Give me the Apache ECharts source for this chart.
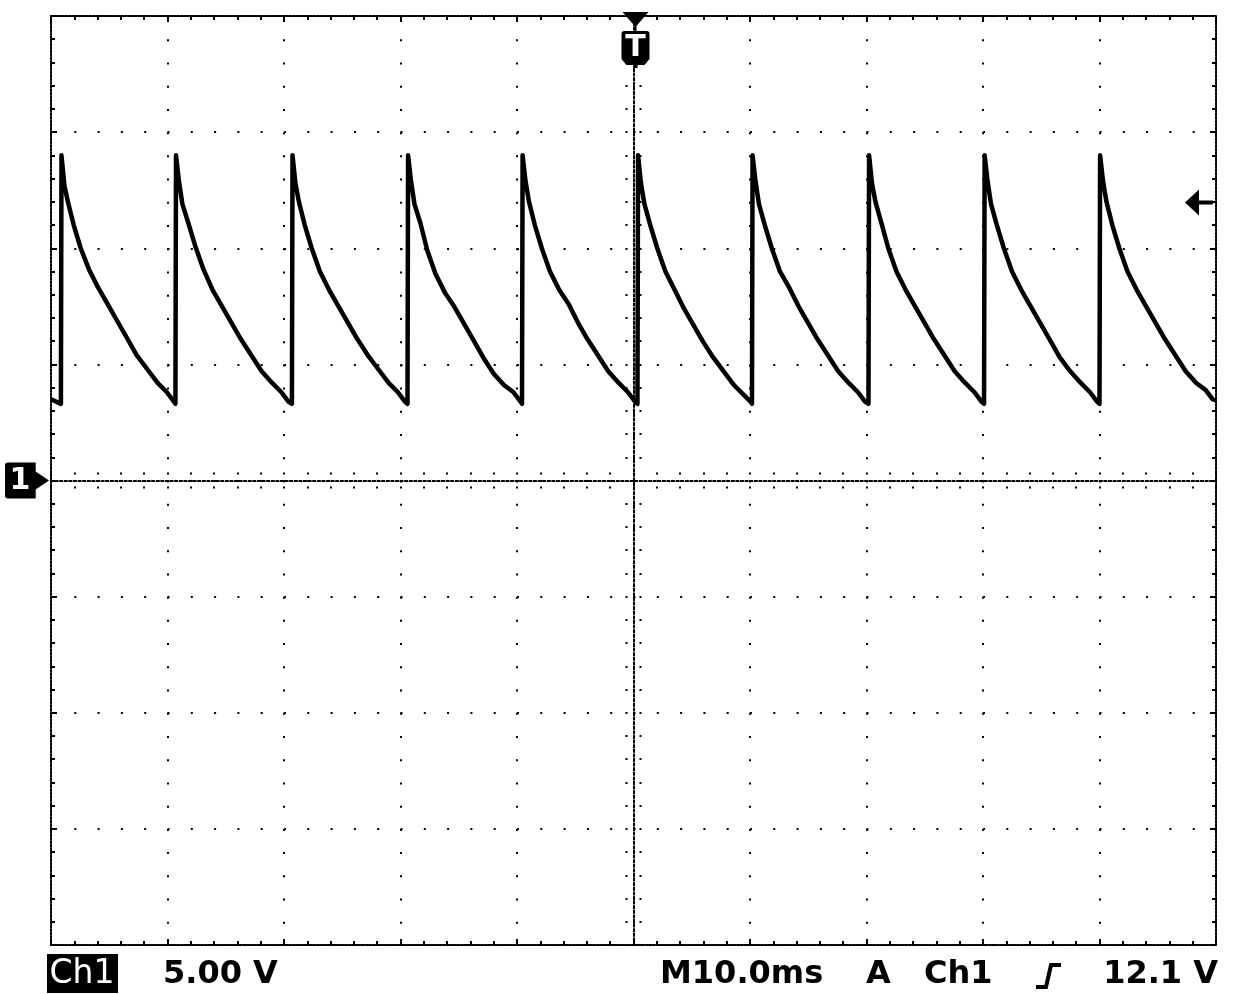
<!DOCTYPE html>
<html><head><meta charset="utf-8">
<script src="https://cdn.jsdelivr.net/npm/echarts@6/dist/echarts.min.js"></script>
<style>html,body{margin:0;padding:0;background:#fff}#c{width:1248px;height:994px}</style>
</head><body><div id="c"></div>
<script>
// ---- axis ranges (10 div x 10 ms, 8 div x 5 V) ----
const timeMinMs = -50, timeMaxMs = 50, timeDivMs = 10;
const voltMin = -20, voltMax = 20, voltDiv = 5;

// ---- trace (time relative to trigger, ms / volts) ----
const traceTimeMs = [
  -50.0,
  -49.15, -49.1, -48.85, -48.55, -48.05, -47.45, -46.75, -45.95, -45.15, -44.35, -43.55, -42.65, -41.75, -40.85, -40.05, -39.45,
  -39.32, -39.27, -39.02, -38.72, -38.22, -37.62, -36.92, -36.12, -35.32, -34.52, -33.72, -32.82, -31.92, -31.02, -30.22, -29.62,
  -29.32, -29.27, -29.02, -28.72, -28.22, -27.62, -26.92, -26.12, -25.32, -24.52, -23.72, -22.82, -21.92, -21.02, -20.22, -19.62,
  -19.4, -19.35, -19.1, -18.8, -18.3, -17.7, -17.0, -16.2, -15.4, -14.6, -13.8, -12.9, -12.0, -11.1, -10.3, -9.7,
  -9.57, -9.52, -9.27, -8.97, -8.47, -7.87, -7.17, -6.37, -5.57, -4.77, -3.97, -3.07, -2.17, -1.27, -0.47, 0.13,
  0.34, 0.39, 0.64, 0.94, 1.44, 2.04, 2.74, 3.54, 4.34, 5.14, 5.94, 6.84, 7.74, 8.64, 9.44, 10.04,
  10.17, 10.22, 10.47, 10.77, 11.27, 11.87, 12.57, 13.37, 14.17, 14.97, 15.77, 16.67, 17.57, 18.47, 19.27, 19.87,
  20.17, 20.22, 20.47, 20.77, 21.27, 21.87, 22.57, 23.37, 24.17, 24.97, 25.77, 26.67, 27.57, 28.47, 29.27, 29.87,
  30.09, 30.14, 30.39, 30.69, 31.19, 31.79, 32.49, 33.29, 34.09, 34.89, 35.69, 36.59, 37.49, 38.39, 39.19, 39.79,
  40.0, 40.05, 40.3, 40.6, 41.1, 41.7, 42.4, 43.2, 44.0, 44.8, 45.6, 46.5, 47.4, 48.3, 49.1, 49.7,
  50.0
];
const traceVolts = [
  3.5,
  3.3, 14.0, 12.7, 12.0, 11.0, 10.0, 9.1, 8.3, 7.6, 6.9, 6.2, 5.4, 4.8, 4.2, 3.8, 3.4,
  3.3, 14.0, 12.9, 11.9, 11.1, 10.1, 9.1, 8.2, 7.5, 6.8, 6.1, 5.4, 4.7, 4.2, 3.8, 3.4,
  3.3, 14.0, 12.8, 12.0, 11.0, 10.0, 9.0, 8.2, 7.5, 6.8, 6.1, 5.4, 4.8, 4.2, 3.8, 3.4,
  3.3, 14.0, 12.9, 11.9, 11.1, 9.9, 8.9, 8.1, 7.5, 6.8, 6.1, 5.3, 4.6, 4.1, 3.8, 3.4,
  3.3, 14.0, 12.9, 12.0, 11.0, 10.0, 9.0, 8.2, 7.6, 6.8, 6.1, 5.4, 4.7, 4.2, 3.8, 3.4,
  3.3, 14.0, 12.8, 11.9, 11.0, 10.0, 9.0, 8.2, 7.4, 6.7, 6.0, 5.3, 4.7, 4.1, 3.7, 3.4,
  3.3, 14.0, 12.9, 11.9, 11.0, 10.0, 9.0, 8.3, 7.5, 6.8, 6.1, 5.4, 4.7, 4.2, 3.8, 3.4,
  3.3, 14.0, 12.8, 12.0, 11.1, 10.0, 9.0, 8.2, 7.5, 6.8, 6.1, 5.4, 4.7, 4.2, 3.8, 3.4,
  3.3, 14.0, 12.9, 11.9, 11.0, 10.0, 9.0, 8.2, 7.5, 6.8, 6.1, 5.3, 4.7, 4.2, 3.8, 3.4,
  3.3, 14.0, 12.9, 12.0, 11.0, 10.0, 9.0, 8.2, 7.5, 6.8, 6.1, 5.4, 4.7, 4.2, 3.9, 3.5,
  3.45
];

// ---- readout texts ----
const channelName = 'Ch1';
const voltsPerDivLabel = '5.00 V';
const timebaseLabel = 'M10.0ms';
const triggerModeLabel = 'A';
const triggerSourceLabel = 'Ch1';
const triggerLevelV = 12.1;
const triggerLevelLabel = '12.1 V';
const groundMarkerText = '1';
const triggerMarkerText = 'T';

const ink = '#000';
const FONT = '"DejaVu Sans", "Liberation Sans", sans-serif';
const G = { left: 51, top: 16, width: 1165, height: 929 };
const minorX = G.width / 50, minorY = G.height / 40;
const centerTickDash = [0, 6, 2, 40];
const centerLineDash = [2, 2.6];
const borderDash = [2, 1.5];

function axisParts(center, inside, split, dotGap) {
  return {
    axisLine: { show: true, onZero: center, onZeroAxisIndex: center ? 0 : undefined,
      lineStyle: { color: ink, width: 2, type: center ? centerLineDash : borderDash } },
    axisTick: { show: true, inside: inside, length: center ? 9 : 6,
      lineStyle: { color: ink, width: 2, type: center ? centerTickDash : 'solid' } },
    minorTick: { show: true, splitNumber: 5, length: center ? 9 : 4,
      lineStyle: { color: ink, width: 2, type: center ? centerTickDash : 'solid' } },
    axisLabel: { show: false },
    splitLine: { show: split, lineStyle: { color: ink, width: 2, type: [2, dotGap - 2] } },
    minorSplitLine: { show: false }
  };
}
function mkX(position, center, inside, split) {
  return Object.assign({ type: 'value', min: timeMinMs, max: timeMaxMs, interval: timeDivMs, position: position },
    axisParts(center, inside, split, minorY));
}
function mkY(position, center, inside, split) {
  return Object.assign({ type: 'value', min: voltMin, max: voltMax, interval: voltDiv, position: position },
    axisParts(center, inside, split, minorX));
}

const groundSymbol = 'path://M3,0 L30,0 L30,9 L43,18 L30,27 L30,36 L3,36 Q0,36 0,33 L0,3 Q0,0 3,0 Z';
const triggerSymbol = 'path://M1,0 L27,0 L14,15 Z M13,14 L15,14 L15,20 L13,20 Z M3,19 L25,19 Q28,19 28,22 L28,47 L23,53 L5,53 L0,47 L0,22 Q0,19 3,19 Z M12,52 L16,52 L16,56 L12,56 Z';
const levelSymbol = 'path://M0,13 L14,0 L14,11 L28,11 L28,15 L14,15 L14,26 Z';

const chart = echarts.init(document.getElementById('c'), null, { renderer: 'canvas' });
chart.setOption({
  backgroundColor: '#fff',
  animation: false,
  grid: { left: G.left, top: G.top, width: G.width, height: G.height, show: false },
  xAxis: [mkX('bottom', false, true, true), mkX('top', false, true, false),
          mkX('bottom', true, true, false), mkX('bottom', true, false, false)],
  yAxis: [mkY('left', false, true, true), mkY('right', false, true, false),
          mkY('left', true, true, false), mkY('left', true, false, false)],
  series: [{
    type: 'line', xAxisIndex: 0, yAxisIndex: 0,
    data: traceTimeMs.map((t, i) => [t, traceVolts[i]]),
    symbol: 'none', showSymbol: false, z: 10,
    lineStyle: { color: ink, width: 4.5, join: 'round' },
    markPoint: {
      silent: true, animation: false,
      data: [
        { name: 'ground', coord: [timeMinMs, 0], symbol: groundSymbol, symbolSize: [44, 36], symbolOffset: [-24, 0],
          itemStyle: { color: ink },
          label: { show: true, formatter: groundMarkerText, color: '#fff', fontSize: 30, fontWeight: 'bold', fontFamily: FONT, offset: [-7, 1] } },
        { name: 'trigger', coord: [0, voltMax], symbol: triggerSymbol, symbolSize: [28, 56], symbolOffset: [2, 24],
          itemStyle: { color: ink },
          label: { show: true, formatter: triggerMarkerText, color: '#fff', fontSize: 30, fontWeight: 'bold', fontFamily: FONT, offset: [0, 8] } },
        { name: 'level', coord: [timeMaxMs, triggerLevelV], symbol: levelSymbol, symbolSize: [28, 26], symbolOffset: [-17, 3],
          itemStyle: { color: ink }, label: { show: false } }
      ]
    }
  }],
  graphic: [
    { type: 'rect', shape: { x: 47, y: 954, width: 71, height: 39 }, style: { fill: ink } },
    { type: 'text', style: { text: channelName, x: 82, y: 974, fill: '#fff', font: '33px ' + FONT, textAlign: 'center', textVerticalAlign: 'middle' } },
    { type: 'text', style: { text: voltsPerDivLabel, x: 163, y: 975, fill: ink, font: 'bold 32px ' + FONT, textAlign: 'left', textVerticalAlign: 'middle' } },
    { type: 'text', style: { text: timebaseLabel, x: 660, y: 975, fill: ink, font: 'bold 32px ' + FONT, textAlign: 'left', textVerticalAlign: 'middle' } },
    { type: 'text', style: { text: triggerModeLabel, x: 866, y: 975, fill: ink, font: 'bold 32px ' + FONT, textAlign: 'left', textVerticalAlign: 'middle' } },
    { type: 'text', style: { text: triggerSourceLabel, x: 924, y: 975, fill: ink, font: 'bold 32px ' + FONT, textAlign: 'left', textVerticalAlign: 'middle' } },
    { type: 'polyline', shape: { points: [[1036, 987], [1046, 987], [1051, 965], [1061, 965]] }, style: { stroke: ink, lineWidth: 4, fill: null } },
    { type: 'text', style: { text: triggerLevelLabel, x: 1218, y: 975, fill: ink, font: 'bold 32px ' + FONT, textAlign: 'right', textVerticalAlign: 'middle' } }
  ]
});
</script>
</body></html>
